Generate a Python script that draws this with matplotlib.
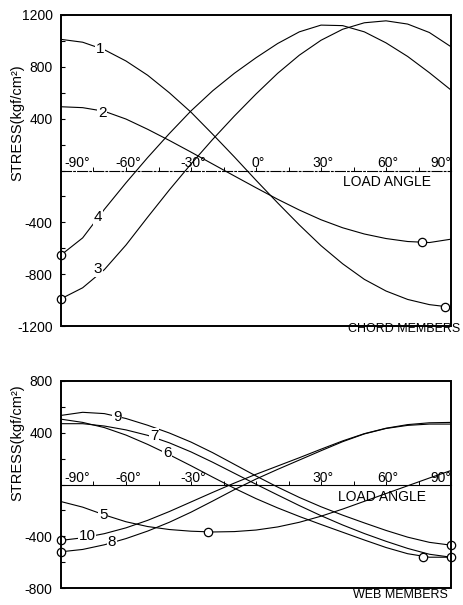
import matplotlib
matplotlib.use('Agg')
import matplotlib.pyplot as plt
from matplotlib.patches import Rectangle

plt.rcParams['font.family'] = ['Liberation Sans', 'DejaVu Sans']

# ---------------- data ----------------
angles = [-90, -80, -70, -60, -50, -40, -30, -20, -10, 0, 10, 20, 30, 40, 50, 60, 70, 80, 90]

# chord members (kgf/cm2)
c1 = [1012, 990, 932, 845, 735, 600, 450, 280, 105, -75, -250, -420, -580, -720, -840, -930, -995, -1035, -1055]
c2 = [492, 485, 457, 397, 318, 232, 142, 50, -42, -133, -222, -305, -380, -442, -490, -525, -548, -556, -530]
c3 = [-990, -905, -765, -575, -360, -150, 50, 240, 420, 590, 750, 890, 1005, 1090, 1140, 1155, 1130, 1065, 955]
c4 = [-652, -520, -300, -95, 100, 285, 460, 615, 750, 870, 980, 1070, 1122, 1118, 1070, 985, 880, 755, 621]

# web members (kgf/cm2)
w5 = [-132, -175, -235, -288, -325, -348, -361, -367, -364, -352, -328, -292, -245, -190, -130, -70, -10, 50, 108]
w6 = [505, 480, 440, 382, 310, 230, 145, 57, -29, -109, -181, -247, -309, -369, -429, -487, -535, -562, -562]
w7 = [470, 470, 452, 422, 380, 322, 252, 172, 87, 2, -81, -163, -241, -313, -379, -439, -494, -539, -562]
w8 = [-520, -502, -466, -418, -360, -292, -214, -128, -40, 42, 117, 189, 261, 331, 391, 433, 457, 467, 467]
w9 = [534, 558, 548, 510, 458, 398, 328, 246, 156, 66, -20, -100, -172, -237, -297, -355, -407, -447, -469]
w10 = [-432, -412, -380, -335, -277, -209, -135, -61, 11, 79, 143, 207, 273, 337, 393, 435, 463, 477, 480]

# open-circle markers
chord_mark_x = [-90, -90, 76.5, 87]
chord_mark_y = [-652, -990, -554, -1050]
web_mark_x = [-90, -90, -22, 90, 90, 77]
web_mark_y = [-432, -520, -367, -469, -562, -560]

# curve number labels
chord_lab_text = ['1', '2', '4', '3']
chord_lab_x = [-72, -71, -73, -73]
chord_lab_y = [935, 445, -357, -760]
web_lab_text = ['9', '7', '6', '5', '10', '8']
web_lab_x = [-64, -47, -41, -70.5, -78, -66.5]
web_lab_y = [525, 375, 245, -235, -401, -443]

# axis ticks / labels
angle_ticks = [-90, -75, -60, -45, -30, -15, 0, 15, 30, 45, 60, 75, 90]
chord_angle_labels = [-90, -60, -30, 0, 30, 60, 90]
web_angle_labels = [-90, -60, -30, 30, 60, 90]
chord_yticks = [1200, 800, 400, -400, -800, -1200]
chord_yminor = [1000, 600, 200, 0, -200, -600, -1000]
web_yticks = [800, 400, -400, -800]
web_yminor = [600, 200, 0, -200, -600]

# ---------------- figure ----------------
W, H = 463, 605
fig = plt.figure(figsize=(W / 100, H / 100), dpi=100)
ax1 = fig.add_axes([61 / W, 1 - 326 / H, 390 / W, 311 / H])
ax2 = fig.add_axes([61 / W, 1 - 588 / H, 390 / W, 207 / H])


def fmt_angle(a):
    return ('-' if a < 0 else '') + f'{abs(a)}°'


def panel(ax, curves, ylim, yt, ym, mx, my, lt, lx, ly, alabels, label_y, zero_ls):
    ax.set_xlim(-90, 90)
    ax.set_ylim(*ylim)
    for c in curves:
        ax.plot(angles, c, color='k', lw=0.8, zorder=2, solid_joinstyle='round')
    ax.plot(mx, my, 'o', ms=6, mfc='white', mec='k', mew=0.9, zorder=5, clip_on=False)
    for t, x, y in zip(lt, lx, ly):
        ax.text(x, y, t, ha='center', va='center', fontsize=11, zorder=4,
                bbox=dict(fc='white', ec='none', pad=0.6))
    # frame
    for s in ['top', 'left', 'right']:
        ax.spines[s].set_visible(False)
    ax.add_patch(Rectangle((0, 0), 1, 1, transform=ax.transAxes, fill=False,
                           lw=1.4, ec='k', zorder=6, clip_on=False))
    # zero line as the x axis
    ax.spines['bottom'].set_position(('data', 0))
    ax.spines['bottom'].set_linewidth(0.8)
    ax.spines['bottom'].set_linestyle(zero_ls)
    ax.set_xticks(angle_ticks)
    ax.set_xticklabels([])
    ax.tick_params(axis='x', direction='in', length=3, width=0.7)
    for a in alabels:
        if a == -90:
            ax.text(-88.6, label_y, fmt_angle(a), ha='left', va='baseline', fontsize=10)
        elif a == 90:
            ax.text(90.3, label_y, fmt_angle(a), ha='right', va='baseline', fontsize=10)
        else:
            ax.text(a + 1, label_y, fmt_angle(a), ha='center', va='baseline', fontsize=10)
    ax.set_yticks(yt)
    ax.set_yticklabels([str(v) for v in yt])
    ax.set_yticks(ym, minor=True)
    ax.tick_params(axis='y', which='both', direction='in', length=3, width=0.8,
                   labelsize=10, pad=6)


panel(ax1, [c1, c2, c3, c4], (-1200, 1200), chord_yticks, chord_yminor,
      chord_mark_x, chord_mark_y, chord_lab_text, chord_lab_x, chord_lab_y,
      chord_angle_labels, 29, (0, (9, 2, 1.5, 2)))
panel(ax2, [w5, w6, w7, w8, w9, w10], (-800, 800), web_yticks, web_yminor,
      web_mark_x, web_mark_y, web_lab_text, web_lab_x, web_lab_y,
      web_angle_labels, 22, '-')

ax1.text(60.3, -86, 'LOAD ANGLE', ha='center', va='center', fontsize=10)
ax2.text(58, -94, 'LOAD ANGLE', ha='center', va='center', fontsize=10)

fig.text(348 / W, 1 - 329 / H, 'CHORD MEMBERS', ha='left', va='center', fontsize=9)
fig.text(353 / W, 1 - 595 / H, 'WEB MEMBERS', ha='left', va='center', fontsize=9)

fig.text(17 / W, 1 - 123 / H, 'STRESS(kgf/cm²)', rotation=90, ha='center', va='center', fontsize=10.5)
fig.text(17 / W, 1 - 443 / H, 'STRESS(kgf/cm²)', rotation=90, ha='center', va='center', fontsize=10.5)

fig.savefig('out.png', dpi=100, facecolor='white')
